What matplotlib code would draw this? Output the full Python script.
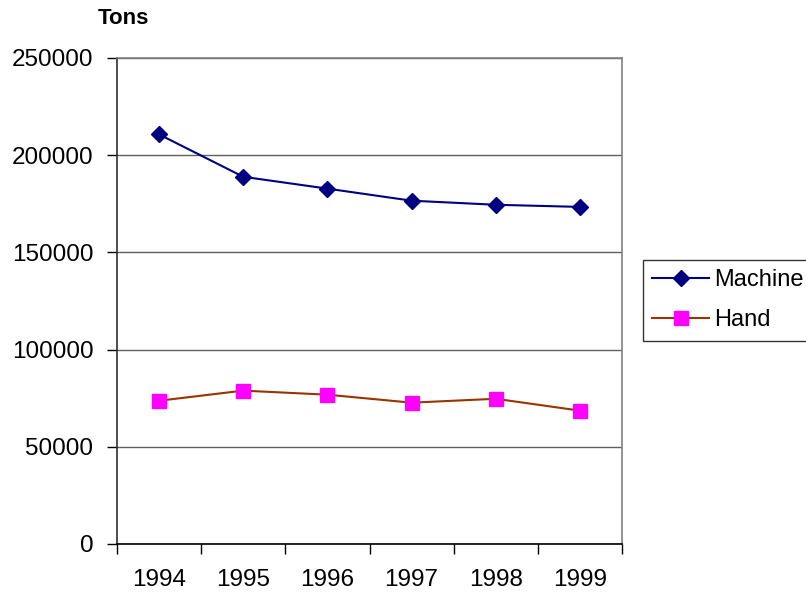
import matplotlib
matplotlib.use("Agg")
import matplotlib.pyplot as plt
from matplotlib.ticker import FixedLocator, NullFormatter

years = ["1994", "1995", "1996", "1997", "1998", "1999"]
machine = [210700, 188900, 182800, 176600, 174500, 173400]
hand = [73700, 78900, 76800, 72700, 74700, 68600]
y_ticks = [0, 50000, 100000, 150000, 200000, 250000]

plt.rcParams["font.family"] = ["Liberation Sans", "DejaVu Sans"]

fig = plt.figure(figsize=(8.06, 5.94), dpi=100)
ax = fig.add_axes([117 / 806, 1 - 544 / 594, (622 - 117) / 806, (544 - 58) / 594])

x = list(range(len(years)))
ax.plot(x, machine, color="#000080", lw=1.5, marker="D", ms=8.5,
        mfc="#000080", mec="#000080", label="Machine", zorder=3)
ax.plot(x, hand, color="#993300", lw=1.5, marker="s", ms=9.5,
        mfc="#FF00FF", mec="#FF00FF", label="Hand", zorder=3)

ax.set_xlim(-0.5, len(years) - 0.5)
ax.set_ylim(0, 250000)
ax.set_yticks(y_ticks)
ax.set_yticklabels([str(v) for v in y_ticks], fontsize=17.5)

# category labels centred, tick marks between categories
ax.set_xticks(x)
ax.set_xticklabels(years, fontsize=17.5)
ax.tick_params(axis="x", which="major", length=0, pad=18)
ax.xaxis.set_minor_locator(FixedLocator([i - 0.5 for i in range(len(years) + 1)]))
ax.xaxis.set_minor_formatter(NullFormatter())
ax.tick_params(axis="x", which="minor", length=7, width=1, color="black", direction="out")
ax.tick_params(axis="y", length=7, width=1, color="black", direction="out", pad=10)

ax.grid(axis="y", color="#606060", lw=1)
ax.set_axisbelow(True)
for side in ("top", "right"):
    ax.spines[side].set_color("#808080")
    ax.spines[side].set_linewidth(1.2)
ax.spines["left"].set_color("#303030")
ax.spines["bottom"].set_color("black")
ax.spines["left"].set_linewidth(1.2)
ax.spines["bottom"].set_linewidth(1.2)

fig.text(98 / 806, 1 - 18 / 594, "Tons", fontsize=16, fontweight="bold",
         ha="left", va="center")

leg = fig.legend(loc="upper left", bbox_to_anchor=(643 / 806, 1 - 260 / 594),
                 fontsize=17, frameon=True, fancybox=False, edgecolor="black",
                 handlelength=2.4, handletextpad=0.2, borderpad=0.4,
                 labelspacing=0.75, borderaxespad=0)
leg.get_frame().set_linewidth(1)

fig.savefig("out.png", dpi=100)
